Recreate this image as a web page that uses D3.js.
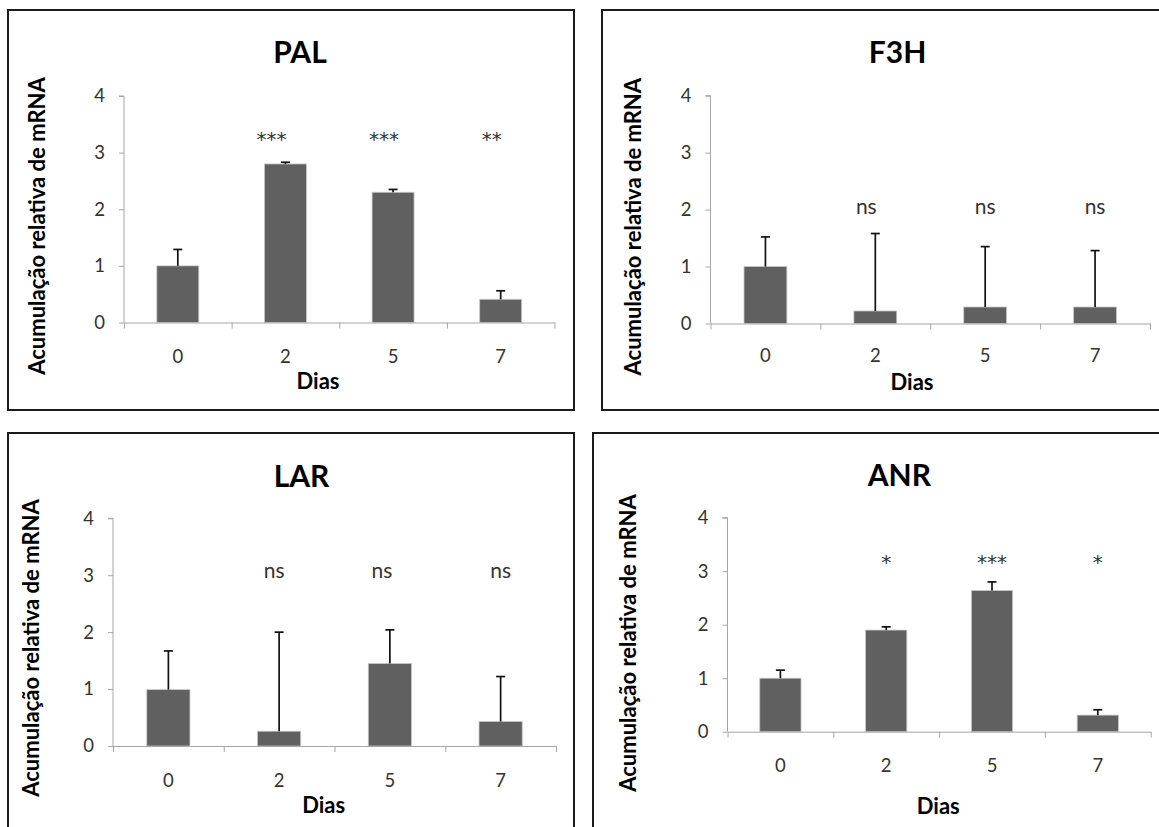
<!DOCTYPE html>
<html>
<head>
<meta charset="utf-8">
<title>Acumulação relativa de mRNA</title>
<script src="https://cdn.jsdelivr.net/npm/d3@7"></script>
<style>
  body { margin: 0; background: #fff; }
  svg { display: block; font-family: Lato, "Open Sans", sans-serif; }
  .frame { fill: none; stroke: #1a1a1a; stroke-width: 2; }
  .axis path, .axis line { stroke: #a6a6a6; }
  .axis text { fill: #333; font-size: 18.5px; font-family: Lato, sans-serif; }
  .title { font-size: 30px; font-weight: bold; fill: #000; }
  .alabel { font-size: 22px; font-weight: bold; fill: #000; }
  .sig { fill: #333; }
</style>
</head>
<body>
<div id="chart"></div>
<script>
// categories (days)
var days = ["0", "2", "5", "7"];
var yTicks = [0, 1, 2, 3, 4];

// PAL
var palMean = [1.00, 2.80, 2.30, 0.41];
var palErr  = [0.29, 0.03, 0.05, 0.15];
var palSig  = ["", "***", "***", "**"];

// F3H
var f3hMean = [1.00, 0.22, 0.29, 0.29];
var f3hErr  = [0.52, 1.36, 1.06, 0.99];
var f3hSig  = ["", "ns", "ns", "ns"];

// LAR
var larMean = [0.99, 0.26, 1.45, 0.43];
var larErr  = [0.68, 1.74, 0.59, 0.79];
var larSig  = ["", "ns", "ns", "ns"];

// ANR
var anrMean = [1.00, 1.90, 2.64, 0.31];
var anrErr  = [0.15, 0.06, 0.16, 0.10];
var anrSig  = ["", "*", "***", "*"];

// panel layout (pixel boxes)
var panels = [
  { name: "PAL", mean: palMean, err: palErr, sig: palSig, sigY: 3.33, sigDx: [0, -14, -9, -9],
    frame: [8, 10, 574, 410], x0: 124, x1: 554.5, yTop: 96, yBot: 322.5,
    title: [300, 63], ylab: [37, 226], dias: [318, 381], xlabY: 356 },
  { name: "F3H", mean: f3hMean, err: f3hErr, sig: f3hSig, sigY: 2.02, sigDx: [0, -9, 0, 0],
    frame: [602, 10, 1175, 410], x0: 710.5, x1: 1150, yTop: 95.7, yBot: 323.5,
    title: [897.6, 63], ylab: [633.5, 226.7], dias: [912, 382], xlabY: 355.5 },
  { name: "LAR", mean: larMean, err: larErr, sig: larSig, sigY: 3.05, sigDx: [0, -5, -8, 0],
    frame: [8, 433, 574, 845], x0: 113, x1: 556, yTop: 518.3, yBot: 746,
    title: [301.5, 486.7], ylab: [31.4, 648], dias: [323.7, 805], xlabY: 780 },
  { name: "ANR", mean: anrMean, err: anrErr, sig: anrSig, sigY: 3.27, sigDx: [0, 0, 0, 0],
    frame: [593, 433, 1175, 845], x0: 727.5, x1: 1150.7, yTop: 517.7, yBot: 731.7,
    title: [899.4, 486], ylab: [628, 643], dias: [938.3, 806.5], xlabY: 765 }
];

var svg = d3.select("#chart").append("svg")
  .attr("width", 1159)
  .attr("height", 827);

panels.forEach(function (p) {
  var g = svg.append("g");

  g.append("rect").attr("class", "frame")
    .attr("x", p.frame[0]).attr("y", p.frame[1])
    .attr("width", p.frame[2] - p.frame[0]).attr("height", p.frame[3] - p.frame[1]);

  var x = d3.scaleBand().domain(days).range([p.x0, p.x1])
    .paddingInner(0.61).paddingOuter(0.305);
  var xEdge = d3.scaleLinear().domain([0, days.length]).range([p.x0, p.x1]);
  var y = d3.scaleLinear().domain([0, 4]).range([p.yBot, p.yTop]);

  // bars
  g.selectAll(".bar").data(days).enter().append("rect")
    .attr("x", function (d) { return x(d); })
    .attr("y", function (d, i) { return y(p.mean[i]); })
    .attr("width", x.bandwidth())
    .attr("height", function (d, i) { return y(0) - y(p.mean[i]); })
    .attr("fill", "#606060")
    .attr("stroke", "#c8c8c8")
    .attr("stroke-width", 0.8);

  // error bars (upper only)
  var eb = g.selectAll(".err").data(days).enter().append("g");
  eb.append("line")
    .attr("x1", function (d) { return x(d) + x.bandwidth() / 2; })
    .attr("x2", function (d) { return x(d) + x.bandwidth() / 2; })
    .attr("y1", function (d, i) { return y(p.mean[i]); })
    .attr("y2", function (d, i) { return y(p.mean[i] + p.err[i]); })
    .attr("stroke", "#111").attr("stroke-width", 1.7);
  eb.append("line")
    .attr("x1", function (d) { return x(d) + x.bandwidth() / 2 - 4.5; })
    .attr("x2", function (d) { return x(d) + x.bandwidth() / 2 + 4.5; })
    .attr("y1", function (d, i) { return y(p.mean[i] + p.err[i]); })
    .attr("y2", function (d, i) { return y(p.mean[i] + p.err[i]); })
    .attr("stroke", "#111").attr("stroke-width", 1.7);

  // y axis
  var ya = g.append("g").attr("class", "axis")
    .attr("transform", "translate(" + p.x0 + ",0)")
    .call(d3.axisLeft(y).tickValues(yTicks).tickFormat(d3.format("d"))
      .tickSizeInner(5).tickSizeOuter(5).tickPadding(14));
  ya.select(".domain").attr("d", "M0," + p.yBot + "V" + p.yTop + "H-5");

  // x axis: boundary ticks
  g.append("g").attr("class", "axis")
    .attr("transform", "translate(0," + p.yBot + ")")
    .call(d3.axisBottom(xEdge).tickValues(d3.range(days.length + 1)).tickFormat("")
      .tickSizeInner(6).tickSizeOuter(0));

  // x axis: category labels
  var xl = g.append("g").attr("class", "axis")
    .attr("transform", "translate(0," + p.yBot + ")")
    .call(d3.axisBottom(x).tickSize(0));
  xl.select(".domain").remove();
  xl.selectAll("text").attr("y", p.xlabY - p.yBot).attr("dy", "0.36em");

  // significance labels
  g.selectAll(".sig").data(days).enter().append("text")
    .attr("class", "sig")
    .attr("x", function (d, i) { return x(d) + x.bandwidth() / 2 + p.sigDx[i]; })
    .attr("y", y(p.sigY))
    .attr("text-anchor", "middle")
    .style("font-family", function (d, i) { return p.sig[i] === "ns" ? null : "'DejaVu Sans', sans-serif"; })
    .style("font-size", function (d, i) { return p.sig[i] === "ns" ? "21px" : "20px"; })
    .attr("dy", function (d, i) { return p.sig[i] === "ns" ? "0.27em" : "0.6em"; })
    .text(function (d, i) { return p.sig[i]; });

  // titles
  g.append("text").attr("class", "title")
    .attr("x", p.title[0]).attr("y", p.title[1])
    .attr("text-anchor", "middle").text(p.name);

  g.append("text").attr("class", "alabel")
    .attr("transform", "translate(" + p.ylab[0] + "," + p.ylab[1] + ") rotate(-90)")
    .attr("text-anchor", "middle").attr("dy", "0.35em")
    .text("Acumulação relativa de mRNA");

  g.append("text").attr("class", "alabel")
    .attr("x", p.dias[0]).attr("y", p.dias[1])
    .attr("text-anchor", "middle").attr("dy", "0.35em")
    .text("Dias");
});
</script>
</body>
</html>
